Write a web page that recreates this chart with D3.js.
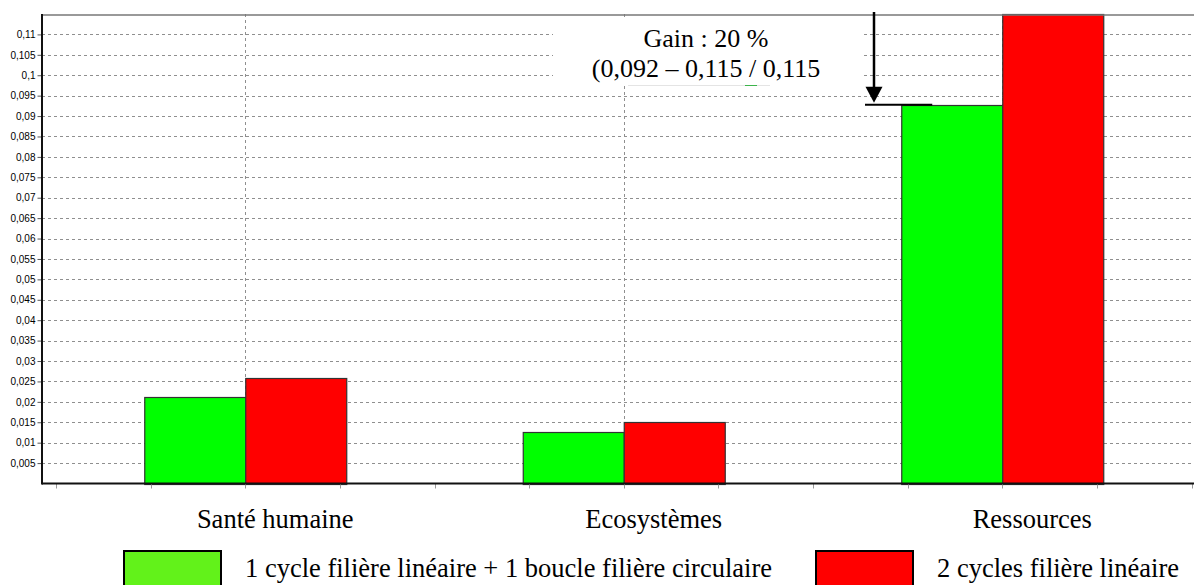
<!DOCTYPE html>
<html>
<head>
<meta charset="utf-8">
<script src="https://cdn.jsdelivr.net/npm/d3@7"></script>
<style>
  body { margin: 0; background: #fff; }
  svg { display: block; }
</style>
</head>
<body>
<div id="chart"></div>
<script>
// categories and values
var categories = ["Santé humaine", "Ecosystèmes", "Ressources"];
var seriesNames = ["1 cycle filière linéaire + 1 boucle filière circulaire", "2 cycles filière linéaire"];
var circulaire = [0.0213, 0.0125, 0.0928];
var lineaire = [0.0258, 0.0150, 0.1150];
var yTicks = [0.005, 0.01, 0.015, 0.02, 0.025, 0.03, 0.035, 0.04, 0.045, 0.05, 0.055,
              0.06, 0.065, 0.07, 0.075, 0.08, 0.085, 0.09, 0.095, 0.1, 0.105, 0.11];
var gainLines = ["Gain : 20 %", "(0,092 – 0,115 / 0,115"];

var W = 1194, H = 585;
var plotLeft = 42, plotTop = 14, plotBottom = 483.5;
var barW = 101;
var labelShift = 30; // labels sit right of the group centres in the original
var barColors = ["#00ff00", "#ff0000"];
var legendColors = ["#62f21a", "#ff0000"];
var serif = "Liberation Serif, Times New Roman, serif";

var svg = d3.select("#chart").append("svg")
    .attr("width", W)
    .attr("height", H);

var y = d3.scaleLinear().domain([0, 0.115]).range([plotBottom, plotTop]);
var x = d3.scaleBand().domain(categories).range([56, 1191.5]).padding(0);
var xSub = d3.scaleBand().domain([0, 1])
    .range([x.bandwidth() / 2 - barW, x.bandwidth() / 2 + barW]).padding(0);

var fmt = function(d) { return String(+d.toFixed(3)).replace(".", ","); };

// horizontal grid
svg.append("g").selectAll("line")
    .data(yTicks).enter().append("line")
    .attr("x1", plotLeft).attr("x2", W)
    .attr("y1", function(d) { return Math.round(y(d)) + 0.5; })
    .attr("y2", function(d) { return Math.round(y(d)) + 0.5; })
    .attr("stroke", "#8f8f8f")
    .attr("stroke-dasharray", "3,3");

// vertical grid at category centres
svg.append("g").selectAll("line")
    .data(categories).enter().append("line")
    .attr("x1", function(d) { return Math.round(x(d) + x.bandwidth() / 2) + 0.5; })
    .attr("x2", function(d) { return Math.round(x(d) + x.bandwidth() / 2) + 0.5; })
    .attr("y1", plotTop).attr("y2", plotBottom)
    .attr("stroke", "#8f8f8f")
    .attr("stroke-dasharray", "3,3");

// y axis
var yAxis = d3.axisLeft(y).tickValues(yTicks).tickFormat(fmt).tickSize(4).tickPadding(2);
var gy = svg.append("g").attr("transform", "translate(" + (plotLeft - 0.5) + ",0)").call(yAxis);
gy.select(".domain").remove();
gy.selectAll(".tick line").attr("stroke", "#555");
gy.selectAll(".tick text")
    .attr("font-family", "Liberation Sans, Arial, sans-serif")
    .attr("font-size", "10px")
    .attr("fill", "#000");

// bars
var groups = svg.append("g").selectAll("g")
    .data(categories).enter().append("g")
    .attr("transform", function(d) { return "translate(" + x(d) + ",0)"; });

groups.selectAll("rect")
    .data(function(d, i) { return [circulaire[i], lineaire[i]]; })
    .enter().append("rect")
    .attr("x", function(d, j) { return xSub(j) + 0.5; })
    .attr("y", function(d) { return Math.round(y(d)) + 0.5; })
    .attr("width", xSub.bandwidth())
    .attr("height", function(d) { return Math.round(plotBottom) - Math.round(y(d)); })
    .attr("fill", function(d, j) { return barColors[j]; })
    .attr("stroke", "#333")
    .attr("stroke-width", 1.2);

// minor ticks under the x axis
var minor = [];
categories.forEach(function(c) {
    for (var k = 0; k < 4; k++) minor.push(x(c) + k * x.bandwidth() / 4);
});
minor.push(x.range()[1]);
svg.append("g").selectAll("line")
    .data(minor).enter().append("line")
    .attr("x1", function(d) { return Math.round(d) + 0.5; })
    .attr("x2", function(d) { return Math.round(d) + 0.5; })
    .attr("y1", plotBottom).attr("y2", plotBottom + 5)
    .attr("stroke", "#999");

// frame: top border, left and bottom axes
svg.append("line").attr("x1", plotLeft).attr("x2", W).attr("y1", 15).attr("y2", 15)
    .attr("stroke", "#777").attr("stroke-width", 1.5);
svg.append("line").attr("x1", plotLeft).attr("x2", plotLeft).attr("y1", 14).attr("y2", plotBottom + 1)
    .attr("stroke", "#111").attr("stroke-width", 2);
svg.append("line").attr("x1", plotLeft).attr("x2", W).attr("y1", plotBottom).attr("y2", plotBottom)
    .attr("stroke", "#111").attr("stroke-width", 2);

// category labels
svg.append("g").selectAll("text")
    .data(categories).enter().append("text")
    .attr("x", function(d) { return x(d) + x.bandwidth() / 2 + labelShift; })
    .attr("y", 528)
    .attr("text-anchor", "middle")
    .attr("font-family", serif)
    .attr("font-size", "26.5px")
    .text(function(d) { return d; });

// legend
var legendX = [124, 816];
var leg = svg.append("g").selectAll("g")
    .data(seriesNames).enter().append("g")
    .attr("transform", function(d, i) { return "translate(" + legendX[i] + ",0)"; });
leg.append("rect")
    .attr("x", 0).attr("y", 551)
    .attr("width", 97).attr("height", 40)
    .attr("fill", function(d, i) { return legendColors[i]; })
    .attr("stroke", "#000").attr("stroke-width", 2);
leg.append("text")
    .attr("x", 121).attr("y", 577)
    .attr("font-family", serif)
    .attr("font-size", "26.5px")
    .text(function(d) { return d; });

// annotation: gain on Ressources (white text box over the grid)
svg.append("rect")
    .attr("x", 553).attr("y", 18).attr("width", 308).attr("height", 67)
    .attr("fill", "#fff");
var resX = x("Ressources");
var gy0 = y(circulaire[2]);
svg.append("line")
    .attr("x1", 865).attr("x2", resX + xSub(0) + 31)
    .attr("y1", gy0).attr("y2", gy0)
    .attr("stroke", "#000").attr("stroke-width", 2);
svg.append("line")
    .attr("x1", 874).attr("x2", 874).attr("y1", 12).attr("y2", gy0 - 16)
    .attr("stroke", "#000").attr("stroke-width", 2.5);
svg.append("path")
    .attr("d", "M865.5," + (gy0 - 18) + " L882.5," + (gy0 - 18) + " L874," + (gy0 - 2) + " Z")
    .attr("fill", "#000");

svg.append("g").selectAll("text")
    .data(gainLines).enter().append("text")
    .attr("x", 706)
    .attr("y", function(d, i) { return 47 + i * 30; })
    .attr("text-anchor", "middle")
    .attr("font-family", serif)
    .attr("font-size", "26px")
    .text(function(d) { return d; });
svg.append("line").attr("x1", 628).attr("x2", 770).attr("y1", 85.5).attr("y2", 85.5)
    .attr("stroke", "#e4e4e4");
svg.append("line").attr("x1", 745).attr("x2", 757).attr("y1", 85.5).attr("y2", 85.5)
    .attr("stroke", "#3cb44b");
</script>
</body>
</html>
